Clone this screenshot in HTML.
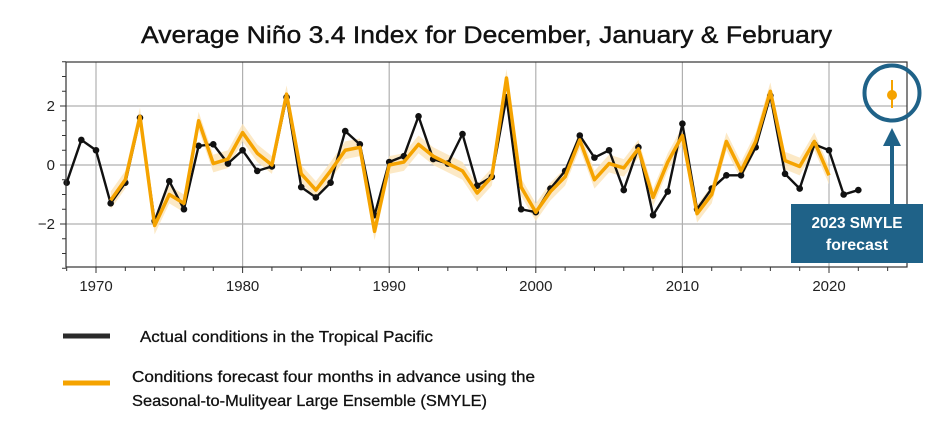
<!DOCTYPE html>
<html><head><meta charset="utf-8"><style>
body{margin:0;background:#fff;width:950px;height:440px;overflow:hidden}
svg{display:block;font-family:"Liberation Sans",sans-serif}
</style></head><body>
<svg id="s" width="950" height="440" viewBox="0 0 950 440">
<text x="141" y="43" textLength="691" lengthAdjust="spacingAndGlyphs" font-size="24" fill="#111" stroke="#111" stroke-width="0.4">Average Niño 3.4 Index for December, January &amp; February</text>
<g id="grid" stroke="#b0b0b0" stroke-width="1.2"></g>
<g id="data"></g>
<rect x="66" y="62" width="841" height="205" fill="none" stroke="#333" stroke-width="1.2"/>
<g id="ticks" stroke="#333" stroke-width="1"></g>
<g font-size="15" fill="#222" id="lbl"></g>
<circle cx="892" cy="93" r="27.5" fill="none" stroke="#1f6288" stroke-width="4"/>
<line x1="892" y1="80" x2="892" y2="108" stroke="#f5a300" stroke-width="2"/>
<circle cx="892" cy="95" r="5" fill="#f5a300"/>
<line x1="892" y1="205" x2="892" y2="144" stroke="#1f6288" stroke-width="4"/>
<polygon points="883,146 901,146 892,128" fill="#1f6288"/>
<rect x="791" y="204" width="132" height="59" fill="#1f6288"/>
<text x="857" y="228" text-anchor="middle" textLength="91" lengthAdjust="spacingAndGlyphs" font-size="16" font-weight="bold" fill="#fff">2023 SMYLE</text>
<text x="857" y="250" text-anchor="middle" font-size="16" font-weight="bold" fill="#fff">forecast</text>
<line x1="63" y1="336" x2="110" y2="336" stroke="#2a2a2a" stroke-width="5"/>
<text x="140" y="342" textLength="293" lengthAdjust="spacingAndGlyphs" font-size="16" fill="#111" stroke="#111" stroke-width="0.3">Actual conditions in the Tropical Pacific</text>
<line x1="63" y1="383" x2="110" y2="383" stroke="#f5a300" stroke-width="5"/>
<text x="132" y="382" textLength="403" lengthAdjust="spacingAndGlyphs" font-size="16" fill="#111" stroke="#111" stroke-width="0.3">Conditions forecast four months in advance using the</text>
<text x="132" y="406" textLength="355" lengthAdjust="spacingAndGlyphs" font-size="16" fill="#111" stroke="#111" stroke-width="0.3">Seasonal-to-Mulityear Large Ensemble (SMYLE)</text>
</svg>
<script>
const X=y=>96+(y-1970)*14.66, Y=v=>165-v*29.5;
const NS="http://www.w3.org/2000/svg";
function el(p,t,a){const e=document.createElementNS(NS,t);for(const k in a)e.setAttribute(k,a[k]);document.getElementById(p).appendChild(e);return e;}
[1970,1980,1990,2000,2010,2020].forEach(y=>el("grid","line",{x1:X(y),x2:X(y),y1:62,y2:267}));
[2,0,-2].forEach(v=>el("grid","line",{x1:66,x2:907,y1:Y(v),y2:Y(v)}));
for(let y=1968;y<=2025;y+=2){el("ticks","line",{x1:X(y),x2:X(y),y1:267,y2:y%10==0?273:271});}
for(let v=-3.5;v<=3.5;v+=0.5){el("ticks","line",{x1:v%2==0?60:62,x2:66,y1:Y(v),y2:Y(v)});}
[1970,1980,1990,2000,2010,2020].forEach(y=>{const t=el("lbl","text",{x:X(y),y:291,"text-anchor":"middle"});t.textContent=y;});
[[2,"2"],[0,"0"],[-2,"−2"]].forEach(([v,s])=>{const t=el("lbl","text",{x:55,y:Y(v)+5,"text-anchor":"end"});t.textContent=s;});
const blk=[-0.6,0.85,0.5,-1.3,-0.6,1.6,-1.9,-0.55,-1.5,0.65,0.7,0.05,0.5,-0.2,-0.05,2.3,-0.75,-1.1,-0.6,1.15,0.7,-1.7,0.1,0.3,1.65,0.2,0.05,1.05,-0.7,-0.4,2.3,-1.5,-1.6,-0.8,-0.2,1.0,0.25,0.5,-0.85,0.6,-1.7,-0.9,1.4,-1.5,-0.8,-0.35,-0.35,0.6,2.35,-0.3,-0.8,0.7,0.5,-1.0,-0.85];
const org=[-1.2,-0.5,1.65,-2.05,-1.0,-1.3,1.5,0.05,0.2,1.1,0.4,0.0,2.4,-0.3,-0.85,-0.2,0.5,0.6,-2.25,0.0,0.1,0.7,0.3,0.05,-0.2,-0.95,-0.4,2.95,-0.75,-1.6,-0.9,-0.4,0.85,-0.5,0.05,-0.1,0.55,-1.1,0.1,1.0,-1.65,-1.0,0.8,-0.2,0.8,2.5,0.15,-0.05,0.8,-0.35];
let up=[],dn=[],op=[];
org.forEach((v,i)=>{const x=X(1971+i);op.push(x+","+Y(v));up.push(x+","+Y(v+0.3));dn.unshift(x+","+Y(v-0.3));});
el("data","polygon",{points:up.concat(dn).join(" "),fill:"#fbe3b8",opacity:0.8});
let bp=blk.map((v,i)=>X(1968+i)+","+Y(v));
el("data","polyline",{points:bp.join(" "),fill:"none",stroke:"#111",'stroke-width':2.4});
blk.forEach((v,i)=>el("data","circle",{cx:X(1968+i),cy:Y(v),r:3.3,fill:"#111"}));
el("data","polyline",{points:op.join(" "),fill:"none",stroke:"#f5a300",'stroke-width':3.5,'stroke-linejoin':"round"});
</script>
</body></html>
